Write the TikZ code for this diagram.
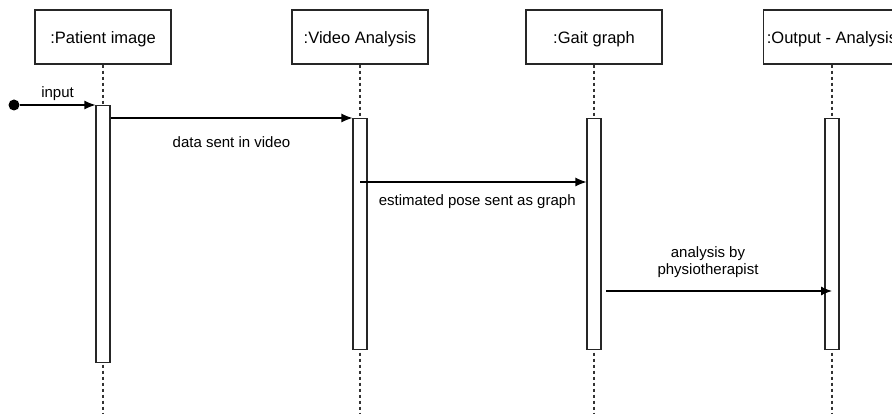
\documentclass[tikz,border=0pt]{standalone}
\usepackage{fontspec}
\setmainfont{Liberation Sans}
\usetikzlibrary{positioning,arrows.meta}

\tikzset{
  actor/.style={draw=black!85, line width=1.1pt, minimum width=136pt,
    minimum height=54pt, text height=13.5pt, text depth=0pt,
    font=\fontsize{16.5}{19}\selectfont},
  activation/.style={draw=black!85, fill=white, line width=1.1pt,
    minimum width=14pt, inner sep=0pt, anchor=north},
  lifeline/.style={draw=black!80, line width=1.1pt, dash pattern=on 3pt off 3pt},
  msg/.style={->, line width=1.1pt},
  msglabel/.style={font=\fontsize{15}{17}\selectfont, align=center}
}

\begin{document}
\begin{tikzpicture}[x=1pt,y=-1pt,>={Latex[length=11pt,width=9pt]}]
	\useasboundingbox (0,0) rectangle (892,414);
	\clip (0,0) rectangle (892,414);

	% objects
	\node[actor] (patient) at (103,37) {:Patient image};
	\node[actor] (video) at (360,37) {:Video Analysis};
	\node[actor] (gait) at (594,37) {:Gait graph};
	\node[actor] (output) at (832,37) {:Output - Analysis};

	\foreach \obj in {patient,video,gait,output}
		\draw[lifeline] (\obj.south) -- (\obj.south |- 0,414);

	% activation bars
	\node[activation, minimum height=257pt] (patientBar) at (103,105) {};
	\node[activation, minimum height=231pt] (videoBar) at (360,118) {};
	\node[activation, minimum height=231pt] (gaitBar) at (594,118) {};
	\node[activation, minimum height=231pt] (outputBar) at (832,118) {};

	% messages
	\node[circle, fill=black, inner sep=0pt, minimum size=11pt] (start) at (14,105) {};
	\draw[msg] (start) -- node[msglabel, above=1pt]{input} (patientBar.north west);

	\draw[msg] (patientBar.east |- videoBar.north) --
		node[msglabel, below=14.5pt]{data sent in video} (videoBar.north west);

	\coordinate (poseStart) at (360,182);
	\draw[msg] (poseStart) --
		node[msglabel, below=9pt, xshift=4pt]{estimated pose sent as graph} (poseStart -| gaitBar.west);

	\coordinate (analysisStart) at (606,291);
	\draw[msg] (analysisStart) --
		node[msglabel, above=10pt, xshift=-11pt]{analysis by\\physiotherapist} (analysisStart -| outputBar.center);
\end{tikzpicture}
\end{document}
